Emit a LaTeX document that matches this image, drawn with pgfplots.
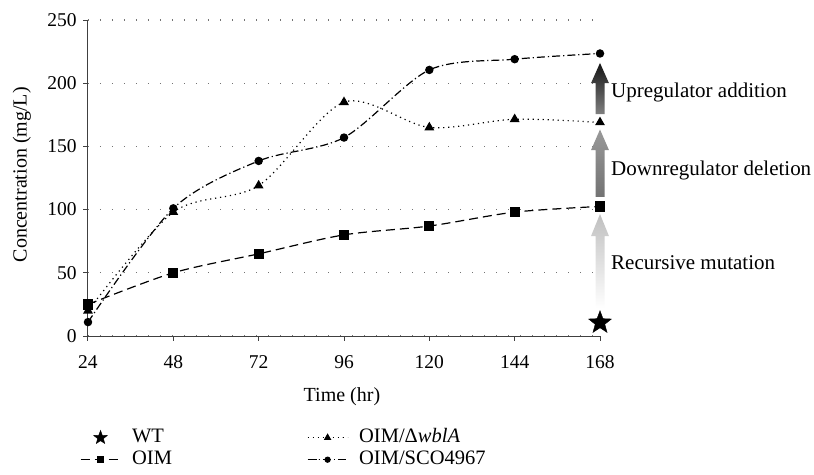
\documentclass[border=0pt]{standalone}
\usepackage{fontspec}
\setmainfont{Liberation Serif}
\usepackage{pgfplots}
\pgfplotsset{compat=1.18}

\pgfdeclareplotmark{fstar}{%
  \pgfpathmoveto{\pgfpointpolar{90}{\pgfplotmarksize}}%
  \pgfpathlineto{\pgfpointpolar{126}{0.42\pgfplotmarksize}}%
  \pgfpathlineto{\pgfpointpolar{162}{\pgfplotmarksize}}%
  \pgfpathlineto{\pgfpointpolar{198}{0.42\pgfplotmarksize}}%
  \pgfpathlineto{\pgfpointpolar{234}{\pgfplotmarksize}}%
  \pgfpathlineto{\pgfpointpolar{270}{0.42\pgfplotmarksize}}%
  \pgfpathlineto{\pgfpointpolar{306}{\pgfplotmarksize}}%
  \pgfpathlineto{\pgfpointpolar{342}{0.42\pgfplotmarksize}}%
  \pgfpathlineto{\pgfpointpolar{18}{\pgfplotmarksize}}%
  \pgfpathlineto{\pgfpointpolar{54}{0.42\pgfplotmarksize}}%
  \pgfpathclose
  \pgfusepathqfillstroke
}

\begin{document}
\fontsize{20}{24}\selectfont
\begin{tikzpicture}
\useasboundingbox (-88pt,-138pt) rectangle (726pt,336pt);
\begin{axis}[
  at={(0pt,0pt)}, anchor=south west,
  scale only axis, width=512pt, height=316pt,
  xmin=24, xmax=168, ymin=0, ymax=250,
  xtick={24,48,72,96,120,144,168},
  ytick={0,50,100,150,200,250},
  axis x line*=bottom, axis y line*=left,
  axis line style={black!75, line width=1pt, -},
  tick style={black!75, line width=1pt},
  tick align=outside, major tick length=4.5pt,
  ymajorgrids,
  grid style={black!55, line width=1.2pt, dash pattern=on 1.2pt off 10.8pt},
  /pgf/number format/assume math mode=true,
  tick label style={font=\fontsize{19.5}{22}\selectfont},
  xticklabel style={yshift=-8pt},
  xlabel={Time (hr)}, ylabel={Concentration (mg/L)},
  label style={font=\fontsize{21}{22}\selectfont},
  every axis x label/.style={at={(axis description cs:0.496,0)}, yshift=-61pt, anchor=center},
  every axis y label/.style={at={(axis description cs:-0.129,0.51)}, rotate=90, anchor=center},
  clip=false,
  legend columns=2, transpose legend, legend cell align=left,
  legend image code/.code={\draw[mark repeat=2,mark phase=2,#1] plot coordinates {(0pt,0pt) (20pt,0pt) (40pt,0pt)};},
  legend image post style={mark options={solid,scale=0.7}},
  legend style={at={(axis description cs:-0.022,-0.28)}, anchor=north west,
    draw=none, fill=none, font=\fontsize{20.5}{22}\selectfont,
    row sep=0pt,
    nodes={inner sep=2pt, text height=14pt, text depth=4pt},
    /tikz/every odd column/.append style={column sep=9pt},
    /tikz/every even column/.append style={column sep=133pt}},
]
% arrows
\shade[bottom color=white, top color=black!25]
  ([xshift=-4.5pt]axis cs:168,22) -- ([xshift=4.5pt]axis cs:168,22) -- ([xshift=4.5pt]axis cs:168,79)
  -- ([xshift=9pt]axis cs:168,79) -- (axis cs:168,96.5) -- ([xshift=-9pt]axis cs:168,79)
  -- ([xshift=-4.5pt]axis cs:168,79) -- cycle;
\shade[bottom color=black!55, top color=black!40]
  ([xshift=-4.5pt]axis cs:168,110) -- ([xshift=4.5pt]axis cs:168,110) -- ([xshift=4.5pt]axis cs:168,147)
  -- ([xshift=9pt]axis cs:168,147) -- (axis cs:168,163.4) -- ([xshift=-9pt]axis cs:168,147)
  -- ([xshift=-4.5pt]axis cs:168,147) -- cycle;
\shade[bottom color=black!50, top color=black!92]
  ([xshift=-4.5pt]axis cs:168,175.6) -- ([xshift=4.5pt]axis cs:168,175.6) -- ([xshift=4.5pt]axis cs:168,200)
  -- ([xshift=9pt]axis cs:168,200) -- (axis cs:168,216) -- ([xshift=-9pt]axis cs:168,200)
  -- ([xshift=-4.5pt]axis cs:168,200) -- cycle;

\addplot[only marks, mark=fstar, mark size=12pt, black, legend image post style={mark options={solid,scale=0.6}}]
  coordinates {(168,10.5)};
\addlegendentry{WT}

\addplot[black, line width=1.2pt, dash pattern=on 9pt off 5pt, smooth, mark=square*, mark size=4.5pt, mark options={solid}]
  coordinates {(24,25) (48,50) (72,65) (96,80) (120,87) (144,98) (168,102.5)};
\addlegendentry{OIM}

\addplot[black, line width=1.2pt, dash pattern=on 1.2pt off 3.8pt, smooth, mark=triangle*, mark size=4.5pt, mark options={solid}]
  coordinates {(24,20) (48,98) (72,119) (96,185) (120,165) (144,171.5) (168,169)};
\addlegendentry{OIM/Δ\textit{wblA}}

\addplot[black, line width=1.2pt, dash pattern=on 8pt off 3pt on 1.2pt off 3pt, smooth, mark=*, mark size=3.6pt, mark options={solid}]
  coordinates {(24,11) (48,101) (72,138.5) (96,157) (120,210.5) (144,219) (168,223.5)};
\addlegendentry{OIM/SCO4967}

\node[anchor=west, inner sep=0pt, font=\fontsize{21}{24}\selectfont] at ([xshift=11pt]axis cs:168,193) {Upregulator addition};
\node[anchor=west, inner sep=0pt, font=\fontsize{21}{24}\selectfont] at ([xshift=11pt]axis cs:168,131) {Downregulator deletion};
\node[anchor=west, inner sep=0pt, font=\fontsize{21}{24}\selectfont] at ([xshift=11pt]axis cs:168,58) {Recursive mutation};
\end{axis}
\end{tikzpicture}
\end{document}
